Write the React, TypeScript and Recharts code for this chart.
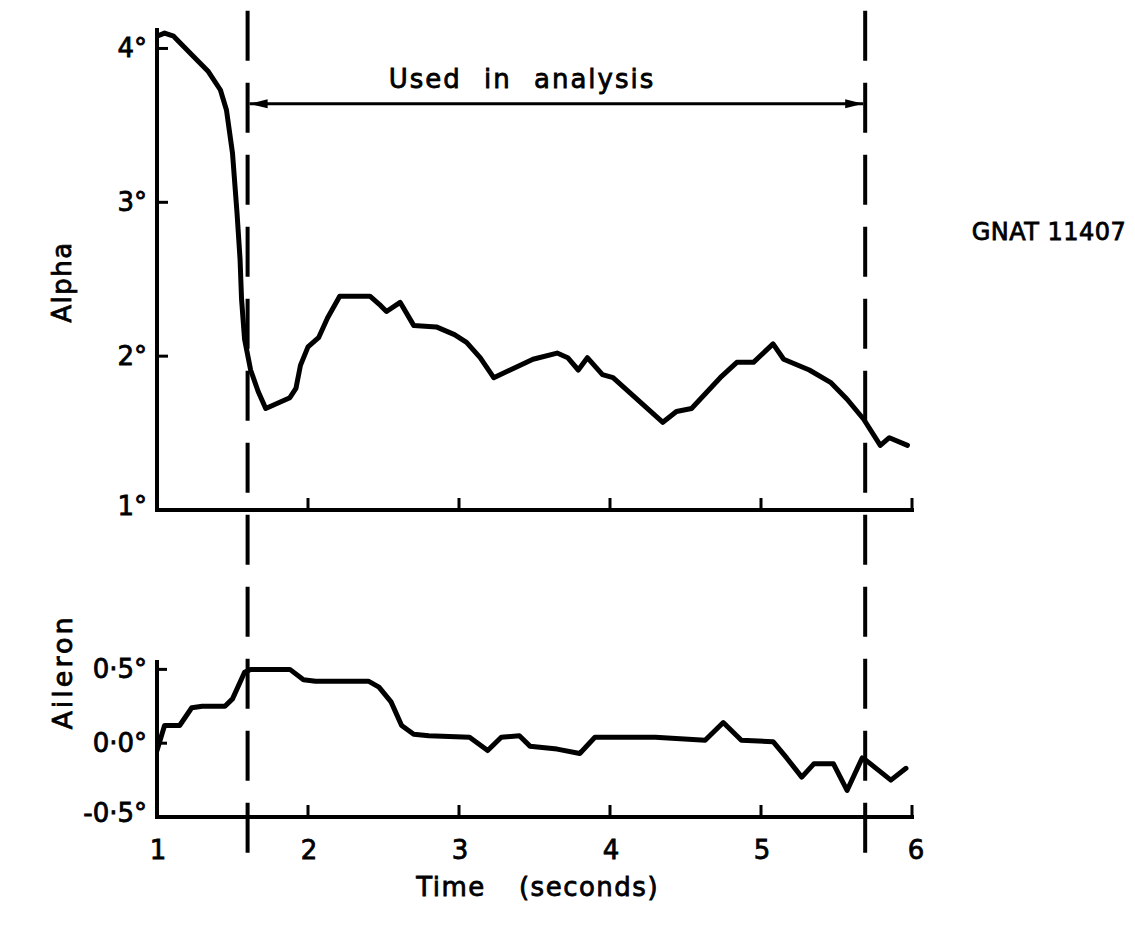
import React from 'react';
import { LineChart, Line, XAxis, YAxis, ReferenceLine } from 'recharts';

// ---- data ----
const alphaTime = [1.0, 1.05, 1.11, 1.17, 1.24, 1.34, 1.42, 1.46, 1.5, 1.53, 1.55, 1.56, 1.58, 1.62, 1.67, 1.72, 1.88, 1.92, 1.95, 2.0, 2.07, 2.13, 2.21, 2.41, 2.48, 2.52, 2.61, 2.7, 2.85, 2.97, 3.05, 3.14, 3.23, 3.49, 3.65, 3.72, 3.79, 3.85, 3.95, 4.02, 4.35, 4.44, 4.54, 4.73, 4.84, 4.95, 5.08, 5.15, 5.32, 5.46, 5.57, 5.68, 5.79, 5.85, 5.97];
const alphaDeg = [4.08, 4.1, 4.08, 4.02, 3.95, 3.85, 3.73, 3.6, 3.32, 2.93, 2.63, 2.37, 2.11, 1.91, 1.77, 1.66, 1.73, 1.79, 1.94, 2.06, 2.12, 2.25, 2.39, 2.39, 2.33, 2.29, 2.35, 2.2, 2.19, 2.14, 2.09, 1.99, 1.86, 1.98, 2.02, 1.99, 1.91, 1.99, 1.88, 1.86, 1.57, 1.64, 1.66, 1.86, 1.96, 1.96, 2.08, 1.98, 1.91, 1.83, 1.72, 1.59, 1.42, 1.47, 1.42];

const aileronTime = [1.0, 1.05, 1.15, 1.23, 1.3, 1.45, 1.5, 1.58, 1.62, 1.88, 1.97, 2.05, 2.4, 2.47, 2.55, 2.62, 2.7, 2.8, 3.07, 3.19, 3.28, 3.4, 3.47, 3.65, 3.8, 3.9, 4.3, 4.63, 4.75, 4.87, 5.08, 5.17, 5.27, 5.35, 5.48, 5.57, 5.67, 5.7, 5.86, 5.96];
const aileronDeg = [-0.05, 0.12, 0.12, 0.24, 0.25, 0.25, 0.3, 0.48, 0.5, 0.5, 0.43, 0.42, 0.42, 0.38, 0.28, 0.12, 0.06, 0.05, 0.04, -0.05, 0.04, 0.05, -0.02, -0.04, -0.07, 0.04, 0.04, 0.02, 0.14, 0.02, 0.01, -0.1, -0.23, -0.14, -0.14, -0.32, -0.1, -0.12, -0.25, -0.17];

const topXTicks = [2, 3, 4, 5, 6];
const bottomXTicks = [1, 2, 3, 4, 5, 6];
const alphaTicks = [1, 2, 3, 4];
const alphaTickLabels = ['1°', '2°', '3°', '4°'];
const aileronTicks = [-0.5, 0, 0.5];
const aileronTickLabels = ['-0·5°', '0·0°', '0·5°'];
const analysisWindow = [1.6, 5.69];
const arrowLevel = 3.64; // alpha units
const dashedExtent = [4.245, -1.29]; // alpha units, spans both panels

const alphaData = alphaTime.map((t, i) => ({ t, v: alphaDeg[i] }));
const aileronData = aileronTime.map((t, i) => ({ t, v: aileronDeg[i] }));

const W = 1135;
const H = 939;
const FONT = "'DejaVu Sans', sans-serif";
const axisStyle = { stroke: '#000', strokeWidth: 4, strokeLinecap: 'square' as const };
const txt = { fontFamily: FONT, fill: '#000', stroke: '#000', strokeWidth: 0.8 };

const TopXTick = (props: any) => {
  const { x, y } = props;
  return <line x1={x} y1={y} x2={x} y2={y - 12} stroke="#000" strokeWidth={3} />;
};

const BottomXTick = (props: any) => {
  const { x, y, payload } = props;
  return (
    <g>
      {payload.value !== 1 && <line x1={x} y1={y} x2={x} y2={y - 12} stroke="#000" strokeWidth={3} />}
      <text x={x + (payload.value === 6 ? 4 : 1)} y={y + 33} textAnchor="middle" dominantBaseline="central" fontSize={26} {...txt}>
        {payload.value}
      </text>
    </g>
  );
};

const AlphaTick = (props: any) => {
  const { x, y, payload } = props;
  const idx = alphaTicks.indexOf(payload.value);
  return (
    <g>
      {payload.value !== 1 && <line x1={x} y1={y} x2={x + 11} y2={y} stroke="#000" strokeWidth={3} />}
      <text x={x - 10} y={payload.value === 1 ? y - 4 : y} textAnchor="end" dominantBaseline="central" fontSize={26} {...txt}>
        {alphaTickLabels[idx]}
      </text>
    </g>
  );
};

const AileronTick = (props: any) => {
  const { x, y, payload } = props;
  const idx = aileronTicks.indexOf(payload.value);
  return (
    <g>
      {payload.value !== -0.5 && <line x1={x} y1={y} x2={x + 10} y2={y} stroke="#000" strokeWidth={3} />}
      <text x={x - 10} y={payload.value === -0.5 ? y - 4 : y} textAnchor="end" dominantBaseline="central" fontSize={26} {...txt}>
        {aileronTickLabels[idx]}
      </text>
    </g>
  );
};

const ArrowShape = (props: any) => {
  const { x1, y1, x2, y2 } = props;
  const L = 18;
  const hw = 4.5;
  return (
    <g>
      <line x1={x1 + 2} y1={y1} x2={x2 - 2} y2={y2} stroke="#000" strokeWidth={3} />
      <polygon points={`${x1 + 2},${y1} ${x1 + 2 + L},${y1 - hw} ${x1 + 2 + L},${y1 + hw}`} fill="#000" />
      <polygon points={`${x2 - 2},${y2} ${x2 - 2 - L},${y2 - hw} ${x2 - 2 - L},${y2 + hw}`} fill="#000" />
    </g>
  );
};

const DashedShape = (props: any) => {
  const { x1, y1, x2, y2 } = props;
  return <line x1={x1} y1={y1} x2={x2} y2={y2} stroke="#000" strokeWidth={4} strokeDasharray="50 22" />;
};

export default function App() {
  return (
    <div style={{ position: 'absolute', left: 0, top: 0, width: W, height: H, background: '#fff', overflow: 'hidden' }}>
      <div style={{ position: 'absolute', left: 0, top: 0 }}>
        <LineChart width={W} height={H} data={alphaData} margin={{ top: 30, right: 223, bottom: 399, left: 97 }}>
          <XAxis dataKey="t" type="number" domain={[1, 6]} ticks={topXTicks} interval={0} allowDataOverflow
            axisLine={axisStyle} tickLine={false} tickSize={0} tickMargin={0} height={30} tick={<TopXTick />} />
          <YAxis type="number" domain={[1, 4.12]} ticks={alphaTicks} interval={0} allowDataOverflow width={60}
            axisLine={axisStyle} tickLine={false} tickSize={0} tickMargin={0} tick={<AlphaTick />} />
          {analysisWindow.map((t, i) => (
            <ReferenceLine key={i} segment={[{ x: t, y: dashedExtent[0] }, { x: t, y: dashedExtent[1] }]} ifOverflow="visible" shape={<DashedShape />} />
          ))}
          <ReferenceLine segment={[{ x: analysisWindow[0], y: arrowLevel }, { x: analysisWindow[1], y: arrowLevel }]} ifOverflow="visible" shape={<ArrowShape />} />
          <Line dataKey="v" type="linear" stroke="#000" strokeWidth={5} dot={false} isAnimationActive={false} strokeLinejoin="round" strokeLinecap="round" />
        </LineChart>
      </div>
      <div style={{ position: 'absolute', left: 0, top: 0, pointerEvents: 'none' }}>
        <LineChart width={W} height={H} data={aileronData} margin={{ top: 662, right: 223, bottom: 72, left: 97 }}>
          <XAxis dataKey="t" type="number" domain={[1, 6]} ticks={bottomXTicks} interval={0} allowDataOverflow
            axisLine={axisStyle} tickLine={false} tickSize={0} tickMargin={0} height={50} tick={<BottomXTick />} />
          <YAxis type="number" domain={[-0.5, 0.55]} ticks={aileronTicks} interval={0} allowDataOverflow width={60}
            axisLine={axisStyle} tickLine={false} tickSize={0} tickMargin={0} tick={<AileronTick />} />
          <Line dataKey="v" type="linear" stroke="#000" strokeWidth={5} dot={false} isAnimationActive={false} strokeLinejoin="round" strokeLinecap="round" />
        </LineChart>
      </div>
      <svg width={W} height={H} style={{ position: 'absolute', left: 0, top: 0, pointerEvents: 'none' }}>
        <g {...txt} fontSize={26}>
          <text x={522} y={79} textAnchor="middle" dominantBaseline="central" letterSpacing={2} wordSpacing={12}>Used in analysis</text>
          <text x={1049} y={232} textAnchor="middle" dominantBaseline="central" fontSize={24} letterSpacing={0.5}>GNAT 11407</text>
          <text transform="translate(62,282) rotate(-90)" textAnchor="middle" dominantBaseline="central" letterSpacing={1.5}>Alpha</text>
          <text transform="translate(62,672) rotate(-90)" textAnchor="middle" dominantBaseline="central" fontSize={27} letterSpacing={3}>Aileron</text>
          <text x={451} y={887} textAnchor="middle" dominantBaseline="central" letterSpacing={1.5}>Time</text>
          <text x={589} y={887} textAnchor="middle" dominantBaseline="central" letterSpacing={1.5}>(seconds)</text>
        </g>
      </svg>
    </div>
  );
}
